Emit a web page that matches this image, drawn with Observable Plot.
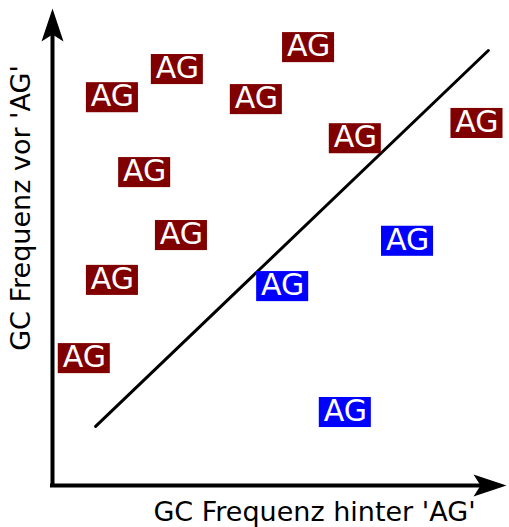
<!DOCTYPE html>
<html>
<head>
<meta charset="utf-8">
<script src="https://cdn.jsdelivr.net/npm/d3@7"></script>
<script src="https://cdn.jsdelivr.net/npm/@observablehq/plot@0.6"></script>
<style>
  html, body { margin: 0; padding: 0; background: #fff; }
  #chart svg { display: block; }
</style>
</head>
<body>
<div id="chart"></div>
<script>
// Label positions (x = GC after 'AG', y = GC before 'AG'), group
const labelX = [13.2, 27.5, 56.4, 44.9, 66.7, 93.5, 20.3, 28.4, 13.2, 7.0, 78.2, 50.7, 64.5];
const labelY = [81.3, 87.2, 91.8, 80.9, 72.7, 75.9, 65.6, 52.4, 43.0, 26.6, 51.2, 41.7, 15.3];
const labelGroup = ["vor", "vor", "vor", "vor", "vor", "vor", "vor", "vor", "vor", "vor", "hinter", "hinter", "hinter"];
const labelText = "AG";
// Diagonal reference line endpoints
const lineX = [9.5, 96.0];
const lineY = [12.4, 91.2];
const xTitle = "GC Frequenz hinter 'AG'";
const yTitle = "GC Frequenz vor 'AG'";

const labels = labelX.map((x, i) => ({x, y: labelY[i], group: labelGroup[i]}));
const halfW = 5.73, halfH = 3.15;

// notched arrow head, tip at origin pointing up
const arrowSymbol = {
  draw(context) {
    context.moveTo(0, 0);
    context.lineTo(11, 33);
    context.lineTo(0, 26);
    context.lineTo(-11, 33);
    context.closePath();
  }
};

const chart = Plot.plot({
  width: 509,
  height: 527,
  marginLeft: 52,
  marginRight: 3,
  marginTop: 8,
  marginBottom: 42,
  style: {fontFamily: "DejaVu Sans", background: "#fff"},
  x: {domain: [0, 100], axis: null},
  y: {domain: [0, 100], axis: null},
  color: {domain: ["vor", "hinter"], range: ["#800000", "#0000ff"]},
  marks: [
    Plot.link([0], {x1: lineX[0], y1: lineY[0], x2: lineX[1], y2: lineY[1], stroke: "#000", strokeWidth: 3, strokeLinecap: "round"}),
    Plot.ruleX([0], {y1: 0, y2: 96, stroke: "#000", strokeWidth: 4, strokeLinecap: "square"}),
    Plot.ruleY([0], {x1: 0, x2: 96, stroke: "#000", strokeWidth: 4, strokeLinecap: "square"}),
    Plot.dot([0], {x: 0, y: 100, symbol: arrowSymbol, fill: "#000", stroke: null}),
    Plot.dot([0], {x: 100, y: 0, symbol: arrowSymbol, fill: "#000", stroke: null, rotate: 90}),
    Plot.rect(labels, {x1: d => d.x - halfW, x2: d => d.x + halfW, y1: d => d.y - halfH, y2: d => d.y + halfH, fill: "group"}),
    Plot.text(labels, {x: "x", y: "y", text: () => labelText, fill: "#fff", fontSize: 30, dy: -1}),
    Plot.text([xTitle], {text: d => d, frameAnchor: "bottom", textAnchor: "middle", lineAnchor: "middle", dx: 35, dy: 27, fontSize: 27, fill: "#000"}),
    Plot.text([yTitle], {text: d => d, frameAnchor: "left", textAnchor: "middle", lineAnchor: "middle", rotate: -90, dx: -31, dy: -39, fontSize: 27, fill: "#000"})
  ]
});
document.getElementById("chart").appendChild(chart);
</script>
</body>
</html>
